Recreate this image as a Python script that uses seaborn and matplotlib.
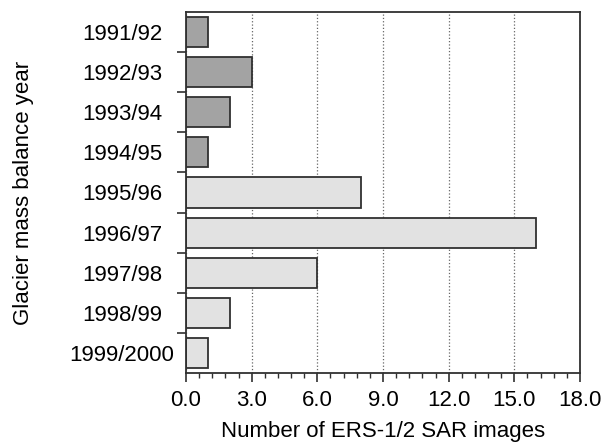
import matplotlib
matplotlib.use("Agg")
import matplotlib.pyplot as plt
from matplotlib.ticker import MultipleLocator, FormatStrFormatter
import seaborn as sns
import pandas as pd

years = ["1991/92", "1992/93", "1993/94", "1994/95", "1995/96",
         "1996/97", "1997/98", "1998/99", "1999/2000"]
counts = [1, 3, 2, 1, 8, 16, 6, 2, 1]
groups = ["early", "early", "early", "early", "late", "late", "late", "late", "late"]

df = pd.DataFrame({"year": years, "count": counts, "group": groups})

sns.set_style("white")
plt.rcParams['font.family'] = ['Liberation Sans', 'DejaVu Sans']
plt.rcParams['text.color'] = 'black'
plt.rcParams['axes.labelcolor'] = 'black'
plt.rcParams['xtick.color'] = 'black'
plt.rcParams['ytick.color'] = 'black'

fig = plt.figure(figsize=(6.08, 4.46), dpi=100)
ax = fig.add_axes([186/608, 1 - 373/446, (580-186)/608, (373-12)/446])

sns.barplot(data=df, y="year", x="count", hue="group", order=years,
            palette={"early": "#a3a3a3", "late": "#e2e2e2"},
            dodge=False, width=0.75, edgecolor="#303030", linewidth=1.3,
            legend=False, ax=ax, orient="h")

fs = 16
ax.set_xlim(0, 18)
ax.set_ylim(len(years) - 0.5, -0.5)
ax.xaxis.set_major_locator(MultipleLocator(3))
ax.xaxis.set_minor_locator(MultipleLocator(0.6))
ax.xaxis.set_major_formatter(FormatStrFormatter("%.1f"))
ax.set_yticks([i + 0.5 for i in range(len(years) - 1)], minor=True)
ax.set_yticks(range(len(years)))
ax.set_yticklabels(years, ha="center")
ax.tick_params(bottom=True, left=True, which="both")
ax.tick_params(axis="y", which="major", length=0, pad=46, labelsize=fs)
ax.tick_params(axis="y", which="minor", length=6.5, width=1.2, direction="out", color="#303030")
ax.tick_params(axis="x", which="major", length=6.5, width=1.2, direction="out", labelsize=fs, color="#303030", pad=6)
ax.tick_params(axis="x", which="minor", length=3.5, width=1.0, direction="out", color="#303030")
ax.set_axisbelow(True)
ax.grid(axis="x", which="major", linestyle=":", color="#666666", linewidth=0.9)
ax.grid(axis="y", visible=False)
for s in ax.spines.values():
    s.set_color("#303030")
    s.set_linewidth(1.3)

ax.set_xlabel("Number of ERS-1/2 SAR images", fontsize=fs, labelpad=7)
ax.set_ylabel("Glacier mass balance year", fontsize=fs, labelpad=26)

fig.savefig("out.png", dpi=100)
